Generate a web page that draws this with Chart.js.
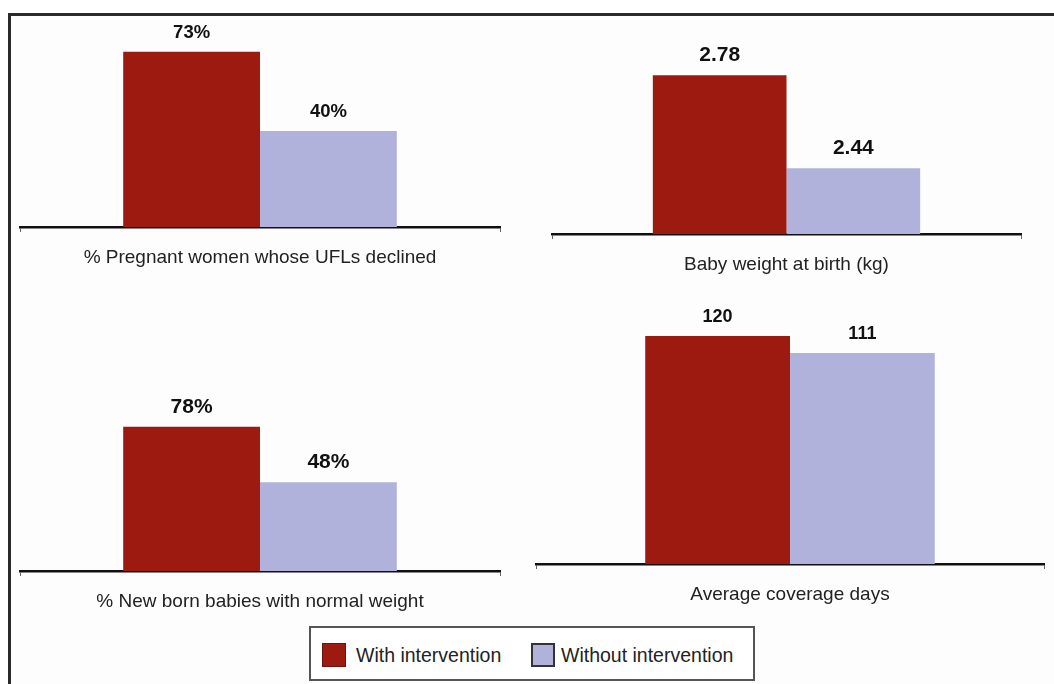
<!DOCTYPE html>
<html>
<head>
<meta charset="utf-8">
<script src="https://cdn.jsdelivr.net/npm/chart.js@4/dist/chart.umd.min.js"></script>
<style>
  html, body { margin: 0; padding: 0; background: #fff; overflow: hidden; }
  body { width: 1054px; height: 684px; position: relative; font-family: "Liberation Sans", Arial, sans-serif; }
  #frame { position: absolute; left: 8px; top: 13px; width: 1100px; height: 700px;
           border-top: 3px solid #2a2a2a; border-left: 3px solid #2a2a2a; background: #fdfdfd; }
  canvas { position: absolute; }
  #legend { position: absolute; left: 309px; top: 626px; width: 442px; height: 51px;
            border: 2px solid #555; background: #fff; box-sizing: content-box; }
  .sw { position: absolute; top: 15px; width: 24px; height: 24px; box-sizing: border-box; }
  .lt { position: absolute; top: 15px; font-size: 19.5px; line-height: 24px; color: #222; }
</style>
</head>
<body>
<div id="frame"></div>
<canvas id="c0"></canvas>
<canvas id="c1"></canvas>
<canvas id="c2"></canvas>
<canvas id="c3"></canvas>
<div id="legend">
  <div class="sw" style="left:11px;background:#9d1a10;border:1px solid #6a120b"></div>
  <div class="lt" id="l0" style="left:45px"></div>
  <div class="sw" style="left:220px;background:#b0b2db;border:2px solid #333"></div>
  <div class="lt" id="l1" style="left:250px"></div>
</div>
<script>
// data
const categories = [
    "% Pregnant women whose UFLs declined",
    "Baby weight at birth (kg)",
    "% New born babies with normal weight",
    "Average coverage days",
];
const seriesNames = ["With intervention", "Without intervention"];
const withIntervention = [73, 2.78, 78, 120];
const withoutIntervention = [40, 2.44, 48, 111];
const valueFormats = ["pct", "dec2", "pct", "int"];

// panel layout (canvas box + value range)
const panels = [
    { left: 18, top: 15, width: 484, height: 262, padTop: 20, min: 0, max: 80, labelSize: 18.5 },
    { left: 550, top: 15, width: 473, height: 269, padTop: 27.5, min: 2.2, max: 2.9, labelSize: 21 },
    { left: 18, top: 290, width: 484, height: 331, padTop: 96, min: 0, max: 100, labelSize: 21 },
    { left: 534, top: 290, width: 512, height: 324, padTop: 27, min: 0, max: 130, labelSize: 18 },
];

const colors = ["#9d1a10", "#b0b2db"];

document.getElementById("l0").textContent = seriesNames[0];
document.getElementById("l1").textContent = seriesNames[1];

const fmt = (v, f) =>
    f === "pct" ? v + "%" : f === "dec2" ? v.toFixed(2) : String(v);

const valueLabels = {
    id: "valueLabels",
    afterDatasetsDraw(chart, args, opts) {
        const ctx = chart.ctx;
        ctx.save();
        ctx.font = `bold ${opts.size}px "Liberation Sans", Arial, sans-serif`;
        ctx.fillStyle = "#111";
        ctx.textAlign = "center";
        ctx.textBaseline = "alphabetic";
        chart.data.datasets.forEach((ds, di) => {
            chart.getDatasetMeta(di).data.forEach((bar, i) => {
                ctx.fillText(fmt(ds.data[i], opts.format), bar.x, bar.y - 14);
            });
        });
        ctx.restore();
    },
};

panels.forEach((p, idx) => {
    const el = document.getElementById("c" + idx);
    el.style.left = p.left + "px";
    el.style.top = p.top + "px";
    el.width = p.width;
    el.height = p.height;
    el.style.width = p.width + "px";
    el.style.height = p.height + "px";

    new Chart(el.getContext("2d"), {
        type: "bar",
        data: {
            labels: [categories[idx]],
            datasets: [
                {
                    label: seriesNames[0],
                    data: [withIntervention[idx]],
                    backgroundColor: colors[0],
                },
                {
                    label: seriesNames[1],
                    data: [withoutIntervention[idx]],
                    backgroundColor: colors[1],
                },
            ],
        },
        options: {
            responsive: false,
            animation: false,
            categoryPercentage: 0.57,
            barPercentage: 1,
            layout: { padding: { top: p.padTop, left: 2, right: 2, bottom: 0 } },
            plugins: {
                legend: { display: false },
                tooltip: { enabled: false },
                valueLabels: { size: p.labelSize, format: valueFormats[idx] },
            },
            scales: {
                x: {
                    grid: {
                        display: true,
                        offset: true,
                        drawOnChartArea: false,
                        tickLength: 5,
                        color: "#666",
                        lineWidth: 1,
                    },
                    border: { display: true, color: "#111", width: 2.5 },
                    ticks: {
                        color: "#222",
                        padding: 14,
                        font: { family: '"Liberation Sans", Arial, sans-serif', size: 19 },
                        maxRotation: 0,
                    },
                    afterFit: (s) => {
                        s.height = 50;
                    },
                },
                y: {
                    display: false,
                    min: p.min,
                    max: p.max,
                },
            },
        },
        plugins: [valueLabels],
    });
});
</script>
</body>
</html>
